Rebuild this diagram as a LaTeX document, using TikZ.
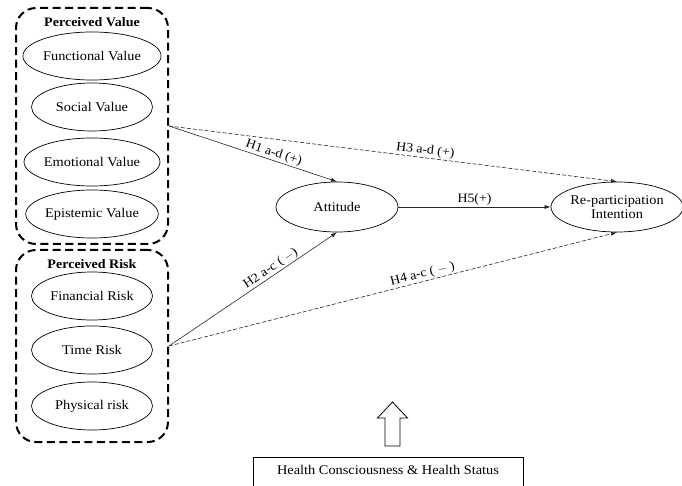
\documentclass[tikz,border=0pt]{standalone}
\usepackage{fontspec}
\setmainfont{Liberation Serif}[FakeStretch=1.08]
\usetikzlibrary{arrows.meta,shapes.geometric}
\begin{document}
\begin{tikzpicture}[x=1pt,y=-1pt,
  ell/.style={draw,ellipse,line width=0.7pt,minimum width=121pt,minimum height=48pt,inner sep=0pt,
    font=\fontsize{13.3}{14.5}\selectfont,align=center},
  grp/.style={draw,rectangle,line width=2pt,dash pattern=on 8pt off 4.5pt,rounded corners=20pt},
  ttl/.style={font=\fontsize{13}{14}\selectfont\bfseries},
  conn/.style={line width=0.6pt,draw=black!85,-{Latex[length=6pt,width=4pt]}},
  dconn/.style={conn,dash pattern=on 4pt off 2pt},
  lab/.style={font=\fontsize{12.8}{13}\selectfont,sloped,above,inner sep=1pt}]
\clip (0,0) rectangle (682,486);
\fill[white] (0,0) rectangle (682,486);

% groups
\node[grp,minimum width=152pt,minimum height=236pt] (pvbox) at (92,126) {};
\node[grp,minimum width=152pt,minimum height=192pt] (prbox) at (92,346) {};
\node[ttl] (pvt) at (92,22) {Perceived Value};
\node[ttl] (prt) at (92,264) {Perceived Risk};

% perceived value
\node[ell] (fv)  at (92,56)  {Functional Value};
\node[ell] (sv)  at (92,107) {Social Value};
\node[ell] (ev)  at (92,162) {Emotional Value};
\node[ell] (epv) at (92,214) {Epistemic Value};

% perceived risk
\node[ell] (fr) at (92,296) {Financial Risk};
\node[ell] (tr) at (92,350) {Time Risk};
\node[ell] (pr) at (92,406) {Physical risk};

% constructs
\node[ell,minimum width=122pt,minimum height=50pt] (att) at (337,207) {Attitude};
\node[ell,minimum width=121pt,minimum height=50pt] (rpi) at (617,207) {Re-participation\\Intention};

% connectors
\draw[conn]  (pvbox.east) -- (att.north) node[lab,pos=0.61] {H1 a-d (+)};
\draw[dconn] (pvbox.east) -- (rpi.north) node[lab,pos=0.57] {H3 a-d (+)};
\draw[conn]  (att.east) -- (rpi.west) node[lab,pos=0.5] {H5(+)};
\draw[conn]  (prbox.east) -- (att.south) node[lab,pos=0.63] {H2 a-c ( $-$)};
\draw[dconn] (prbox.east) -- (rpi.south) node[lab,pos=0.57] {H4 a-c ( $-$ )};

% moderator
\node[draw,line width=0.7pt,minimum width=270pt,minimum height=34pt] (hc) at (388,474) {};
\node[font=\fontsize{13.3}{14}\selectfont] (hct) at (388,470) {Health Consciousness \& Health Status};
\draw[line width=0.8pt] (385,446) -- (385,418) -- (377.5,418) -- (392.5,402) -- (407.5,418) -- (400,418) -- (400,446) -- cycle;
\end{tikzpicture}
\end{document}
